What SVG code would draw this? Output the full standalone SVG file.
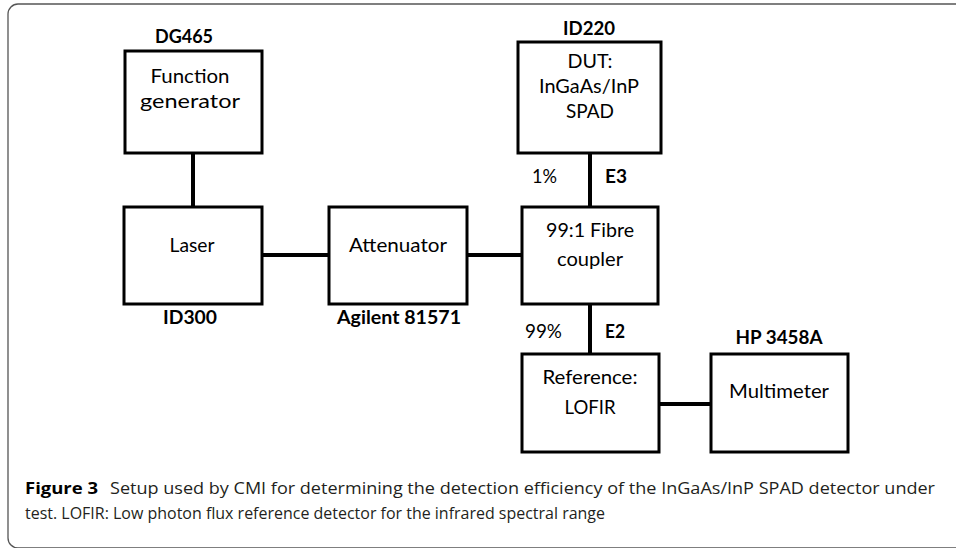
<svg xmlns="http://www.w3.org/2000/svg" width="956" height="548" viewBox="0 0 956 548">
<style>
.box{fill:#fff;stroke:#000;stroke-width:3}
.con{stroke:#000;stroke-width:4;fill:none}
.t{font-family:Lato,"Open Sans","Liberation Sans",sans-serif;font-size:19px;fill:#000;text-anchor:middle}
.b{font-family:Lato,"Open Sans","Liberation Sans",sans-serif;font-size:19px;font-weight:bold;fill:#000;text-anchor:middle}
.l{font-family:Lato,"Open Sans","Liberation Sans",sans-serif;font-size:19px;fill:#000}
.lb{font-family:Lato,"Open Sans","Liberation Sans",sans-serif;font-size:19px;font-weight:bold;fill:#000}
.cap{font-family:"Open Sans","Liberation Sans",sans-serif;font-size:16px;fill:#231f20}
</style>
<rect x="8" y="4" width="1000" height="544" rx="10" ry="10" fill="#fff" stroke="#555" stroke-width="1.3"/>
<g id="connectors">
<line class="con" x1="193" y1="153" x2="193" y2="207"/>
<line class="con" x1="262" y1="255" x2="329" y2="255"/>
<line class="con" x1="467" y1="255" x2="522" y2="255"/>
<line class="con" x1="590" y1="153" x2="590" y2="207"/>
<line class="con" x1="590" y1="304" x2="590" y2="354"/>
<line class="con" x1="659" y1="404" x2="711" y2="404"/>
</g>
<g id="funcgen">
<rect class="box" x="125" y="51" width="137" height="102"/>
<text class="b" x="184" y="43" textLength="58" lengthAdjust="spacingAndGlyphs">DG465</text>
<text class="t" x="190" y="83" textLength="79" lengthAdjust="spacingAndGlyphs">Function</text>
<text class="t" x="190" y="108" textLength="100" lengthAdjust="spacingAndGlyphs">generator</text>
</g>
<g id="laser">
<rect class="box" x="124" y="207" width="138" height="97"/>
<text class="t" x="192" y="252" textLength="45" lengthAdjust="spacingAndGlyphs">Laser</text>
<text class="b" x="190" y="324" textLength="54" lengthAdjust="spacingAndGlyphs">ID300</text>
</g>
<g id="attenuator">
<rect class="box" x="329" y="207" width="138" height="97"/>
<text class="t" x="398" y="252" textLength="98" lengthAdjust="spacingAndGlyphs">Attenuator</text>
<text class="b" x="399" y="324" textLength="124" lengthAdjust="spacingAndGlyphs">Agilent 81571</text>
</g>
<g id="dut">
<rect class="box" x="518" y="42" width="143" height="111"/>
<text class="b" x="589" y="35" textLength="52" lengthAdjust="spacingAndGlyphs">ID220</text>
<text class="t" x="590" y="68" textLength="45" lengthAdjust="spacingAndGlyphs">DUT:</text>
<text class="t" x="589" y="93" textLength="100" lengthAdjust="spacingAndGlyphs">InGaAs/InP</text>
<text class="t" x="590" y="118" textLength="48" lengthAdjust="spacingAndGlyphs">SPAD</text>
</g>
<g id="e3labels">
<text class="l" x="532" y="183" textLength="25" lengthAdjust="spacingAndGlyphs">1%</text>
<text class="lb" x="605" y="183" textLength="22" lengthAdjust="spacingAndGlyphs">E3</text>
</g>
<g id="coupler">
<rect class="box" x="522" y="207" width="136" height="97"/>
<text class="t" x="590" y="237" textLength="88" lengthAdjust="spacingAndGlyphs">99:1 Fibre</text>
<text class="t" x="590" y="266" textLength="66" lengthAdjust="spacingAndGlyphs">coupler</text>
</g>
<g id="e2labels">
<text class="l" x="525" y="338" textLength="37" lengthAdjust="spacingAndGlyphs">99%</text>
<text class="lb" x="605" y="338" textLength="20" lengthAdjust="spacingAndGlyphs">E2</text>
</g>
<g id="reference">
<rect class="box" x="522" y="354" width="137" height="98"/>
<text class="t" x="590" y="384" textLength="95" lengthAdjust="spacingAndGlyphs">Reference:</text>
<text class="t" x="590" y="414" textLength="51" lengthAdjust="spacingAndGlyphs">LOFIR</text>
</g>
<g id="multimeter">
<rect class="box" x="711" y="354" width="137" height="98"/>
<text class="b" x="779" y="344" textLength="87" lengthAdjust="spacingAndGlyphs">HP 3458A</text>
<text class="t" x="779" y="398" textLength="100" lengthAdjust="spacingAndGlyphs">Multimeter</text>
</g>
<g id="caption">
<text class="cap" x="25" y="494"><tspan font-weight="bold" fill="#000" textLength="73" lengthAdjust="spacingAndGlyphs">Figure 3</tspan><tspan x="110" textLength="825" lengthAdjust="spacingAndGlyphs">Setup used by CMI for determining the detection efficiency of the InGaAs/InP SPAD detector under</tspan></text>
<text class="cap" x="25" y="519" textLength="580" lengthAdjust="spacingAndGlyphs">test. LOFIR: Low photon flux reference detector for the infrared spectral range</text>
</g>
</svg>
